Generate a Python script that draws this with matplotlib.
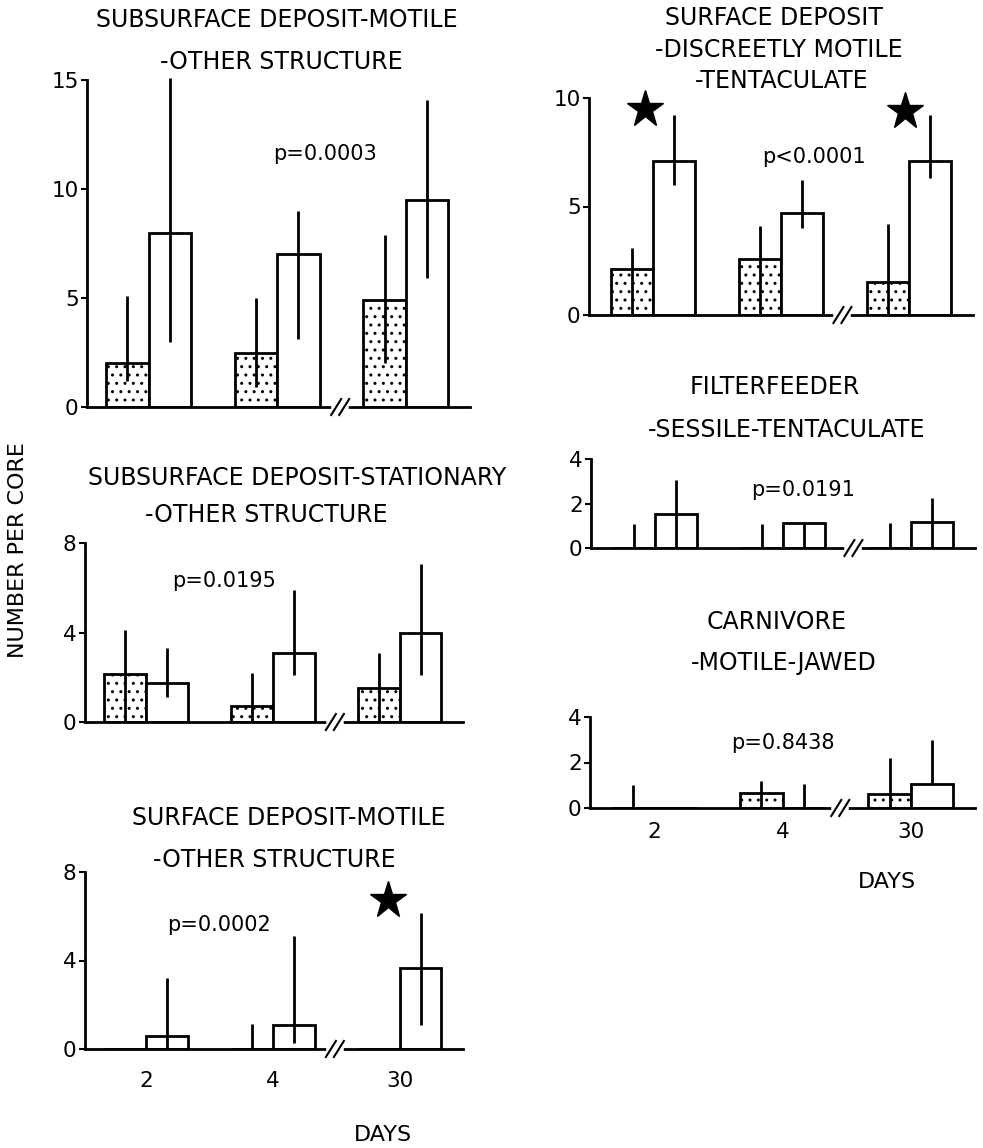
"""
Six-panel bar chart of feeding guild densities (number per core) at 2, 4 and 30 days.
Stippled bars and open bars per day, with range lines, p-values and stars.
"""

import matplotlib
matplotlib.use("Agg")
import matplotlib.pyplot as plt
from matplotlib.transforms import blended_transform_factory

plt.rcParams["font.family"] = ["DejaVu Sans"]
plt.rcParams["hatch.linewidth"] = 1.0

W, H = 983, 1148
days = ["2", "4", "30"]

# subsurface deposit - motile - other structure
ssm_stip = [2.0, 2.5, 4.9]
ssm_stip_lo = [1.2, 0.9, 2.0]
ssm_stip_hi = [5.1, 5.0, 7.9]
ssm_open = [8.0, 7.0, 9.5]
ssm_open_lo = [3.0, 3.1, 5.9]
ssm_open_hi = [15.1, 9.0, 14.1]

# subsurface deposit - stationary - other structure
sss_stip = [2.15, 0.7, 1.5]
sss_stip_lo = [0.0, 0.0, 0.0]
sss_stip_hi = [4.1, 2.2, 3.1]
sss_open = [1.75, 3.1, 4.0]
sss_open_lo = [1.1, 2.1, 2.1]
sss_open_hi = [3.3, 5.9, 7.05]

# surface deposit - motile - other structure
sdm_stip = [0.0, 0.0, 0.0]
sdm_stip_lo = [0.0, 0.0, 0.0]
sdm_stip_hi = [0.0, 1.14, 0.0]
sdm_open = [0.6, 1.1, 3.65]
sdm_open_lo = [0.0, 0.27, 1.1]
sdm_open_hi = [3.2, 5.1, 6.15]

# surface deposit - discreetly motile - tentaculate
sdt_stip = [2.1, 2.6, 1.5]
sdt_stip_lo = [0.0, 0.0, 0.0]
sdt_stip_hi = [3.1, 4.1, 4.2]
sdt_open = [7.1, 4.7, 7.1]
sdt_open_lo = [6.0, 4.0, 6.3]
sdt_open_hi = [9.2, 6.2, 9.2]

# filterfeeder - sessile - tentaculate
fst_stip = [0.0, 0.0, 0.0]
fst_stip_lo = [0.0, 0.0, 0.0]
fst_stip_hi = [1.1, 1.07, 1.13]
fst_open = [1.55, 1.13, 1.16]
fst_open_lo = [0.0, 0.0, 0.0]
fst_open_hi = [3.06, 1.13, 2.23]

# carnivore - motile - jawed
cmj_stip = [0.0, 0.65, 0.63]
cmj_stip_lo = [0.0, 0.0, 0.0]
cmj_stip_hi = [1.02, 1.2, 2.18]
cmj_open = [0.0, 0.0, 1.05]
cmj_open_lo = [0.0, 0.0, 1.05]
cmj_open_hi = [0.0, 1.05, 2.98]

BAR_W = 0.33
LW = 2.0


def px_axes(x0, x1, y0, y1):
    return [x0 / W, 1 - y1 / H, (x1 - x0) / W, (y1 - y0) / H]


def fig_text(fig, x, y, s, **kw):
    fig.text(x / W, 1 - y / H, s, ha="center", va="center", **kw)


def draw_break(ax, xb):
    # "//" on the x axis
    x_lo, x_hi = ax.get_xlim()
    ux = (x_hi - x_lo) / ax.bbox.width
    uy = 1.0 / ax.bbox.height
    tr = blended_transform_factory(ax.transData, ax.transAxes)
    ax.plot([xb - 6 * ux, xb + 6 * ux], [0, 0], color="white", lw=LW + 2,
            transform=tr, clip_on=False, zorder=5)
    for off in (-4, 4):
        xc = xb + off * ux
        ax.plot([xc - 5 * ux, xc + 5 * ux], [-8 * uy, 8 * uy], color="black",
                lw=1.5, transform=tr, clip_on=False, zorder=6)


def draw_panel(ax, stip, stip_lo, stip_hi, opn, opn_lo, opn_hi, ymax, yticks,
               xlim, xbreak, ptext, pxy, stars=(), xlabels=False, label_pad=12):
    x = range(len(stip))
    xs = [i - BAR_W / 2 for i in x]
    xo = [i + BAR_W / 2 for i in x]
    ax.bar(xs, stip, BAR_W, facecolor="white", edgecolor="black", hatch="..",
           linewidth=LW, zorder=2)
    ax.bar(xo, opn, BAR_W, facecolor="white", edgecolor="black",
           linewidth=LW, zorder=2)
    for xi, lo, hi in zip(xs + xo, stip_lo + opn_lo, stip_hi + opn_hi):
        if hi > 0:
            ax.vlines(xi, lo, hi, color="black", lw=LW, zorder=3, clip_on=False)
    for sx, sy in stars:
        ax.plot(sx, sy, marker="*", ms=28, color="black", clip_on=False)
    ax.text(pxy[0], pxy[1], ptext, ha="center", va="center", fontsize=15)

    ax.set_xlim(*xlim)
    ax.set_ylim(0, ymax)
    ax.set_yticks(yticks)
    ax.tick_params(axis="y", length=4, width=1.5, pad=2, labelsize=15.5)
    if xlabels:
        ax.set_xticks(list(x))
        ax.set_xticklabels(days)
        ax.tick_params(axis="x", length=0, pad=label_pad, labelsize=15.5)
    else:
        ax.set_xticks([])
    for side in ("top", "right"):
        ax.spines[side].set_visible(False)
    for side in ("left", "bottom"):
        ax.spines[side].set_linewidth(LW)
    draw_break(ax, xbreak)


def main():
    fig = plt.figure(figsize=(W / 100, H / 100), dpi=100)
    left_lim = (-0.48, 2.5)
    right_lim = (-0.5, 2.5)

    ax1 = fig.add_axes(px_axes(87, 470, 80, 407))
    draw_panel(ax1, ssm_stip, ssm_stip_lo, ssm_stip_hi, ssm_open, ssm_open_lo,
               ssm_open_hi, 15, [0, 5, 10, 15], left_lim, 1.49,
               "p=0.0003", (1.37, 11.6))

    ax2 = fig.add_axes(px_axes(85, 463, 543, 722))
    draw_panel(ax2, sss_stip, sss_stip_lo, sss_stip_hi, sss_open, sss_open_lo,
               sss_open_hi, 8, [0, 4, 8], left_lim, 1.49,
               "p=0.0195", (0.62, 6.28))

    ax3 = fig.add_axes(px_axes(85, 463, 872, 1049))
    draw_panel(ax3, sdm_stip, sdm_stip_lo, sdm_stip_hi, sdm_open, sdm_open_lo,
               sdm_open_hi, 8, [0, 4, 8], left_lim, 1.49,
               "p=0.0002", (0.58, 5.6), stars=[(1.91, 6.75)],
               xlabels=True, label_pad=16)

    ax4 = fig.add_axes(px_axes(589, 973, 98, 315))
    draw_panel(ax4, sdt_stip, sdt_stip_lo, sdt_stip_hi, sdt_open, sdt_open_lo,
               sdt_open_hi, 10, [0, 5, 10], right_lim, 1.48,
               "p<0.0001", (1.26, 7.3), stars=[(-0.06, 9.5), (1.97, 9.4)])

    ax5 = fig.add_axes(px_axes(591, 975, 459, 548))
    draw_panel(ax5, fst_stip, fst_stip_lo, fst_stip_hi, fst_open, fst_open_lo,
               fst_open_hi, 4, [0, 2, 4], right_lim, 1.55,
               "p=0.0191", (1.16, 2.6))

    ax6 = fig.add_axes(px_axes(590, 975, 717, 808))
    draw_panel(ax6, cmj_stip, cmj_stip_lo, cmj_stip_hi, cmj_open, cmj_open_lo,
               cmj_open_hi, 4, [0, 2, 4], right_lim, 1.45,
               "p=0.8438", (1.0, 2.84), xlabels=True, label_pad=10)

    # panel titles
    tkw = dict(fontsize=17)
    fig_text(fig, 277, 20, "SUBSURFACE DEPOSIT-MOTILE", **tkw)
    fig_text(fig, 281, 62, "-OTHER STRUCTURE", **tkw)
    fig_text(fig, 297, 478, "SUBSURFACE DEPOSIT-STATIONARY", **tkw)
    fig_text(fig, 266, 515, "-OTHER STRUCTURE", **tkw)
    fig_text(fig, 289, 818, "SURFACE DEPOSIT-MOTILE", **tkw)
    fig_text(fig, 274, 860, "-OTHER STRUCTURE", **tkw)
    fig_text(fig, 774, 18, "SURFACE DEPOSIT", **tkw)
    fig_text(fig, 779, 50, "-DISCREETLY MOTILE", **tkw)
    fig_text(fig, 782, 81, "-TENTACULATE", **tkw)
    fig_text(fig, 775, 387, "FILTERFEEDER", **tkw)
    fig_text(fig, 787, 430, "-SESSILE-TENTACULATE", **tkw)
    fig_text(fig, 777, 622, "CARNIVORE", **tkw)
    fig_text(fig, 784, 663, "-MOTILE-JAWED", **tkw)

    fig_text(fig, 18, 550, "NUMBER PER CORE", fontsize=16, rotation=90)
    fig_text(fig, 383, 1135, "DAYS", fontsize=16)
    fig_text(fig, 887, 882, "DAYS", fontsize=16)

    fig.savefig("out.png", dpi=100)


if __name__ == "__main__":
    main()
